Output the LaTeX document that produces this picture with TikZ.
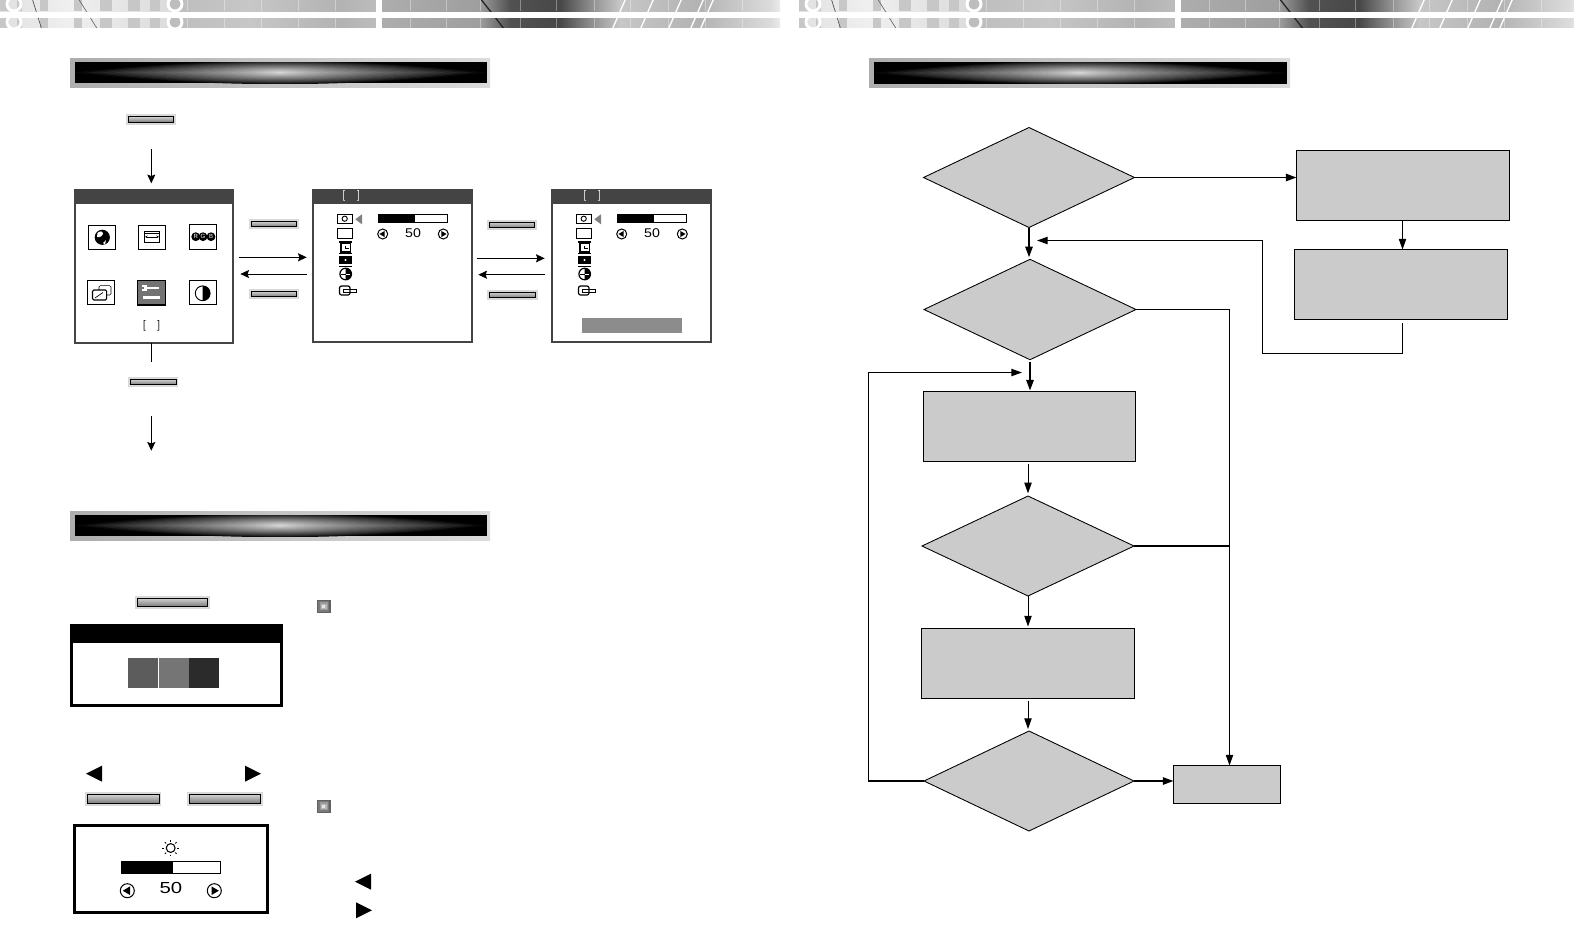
\documentclass[tikz,border=0pt]{standalone}
\usepackage{fontspec}
\usetikzlibrary{arrows.meta,shapes.geometric,calc}
\setsansfont{Liberation Sans}
\def\px{0.75pt}
\definecolor{titlegray}{HTML}{444444}
\definecolor{flowgray}{HTML}{CBCBCB}
\tikzset{
  screen/.style={draw=titlegray, line width=1.5pt, fill=white, inner sep=0pt, outer sep=0pt},
  framebox/.style={draw=black, line width=2pt, fill=white, inner sep=0pt, outer sep=0pt},
  btn/.style={draw=black, line width=0.6pt, top color=black!18, bottom color=black!52, inner sep=0pt, outer sep=0pt,
    minimum width=#1*\px, minimum height=5.5*\px, preaction={draw=black!15, line width=3.5pt}},
  flowbox/.style={draw=black, line width=0.75pt, fill=flowgray, inner sep=0pt, outer sep=0pt},
  flowdia/.style={flowbox, shape=diamond, line width=0.65pt},
  flowarrow/.style={-{Stealth[inset=0pt,length=8pt,width=5.5pt]}, line width=0.75pt},
  flowthick/.style={flowarrow, line width=1.3pt},
  panelarrow/.style={-{Stealth[inset=1pt,length=6.5pt,width=6pt]}, line width=0.7pt},
  iconbox/.style={draw=black, line width=0.75pt},
  bignum/.style={font=\sffamily\fontsize{#1}{#1}\selectfont, inner sep=0pt},
  marktext/.style={font=\bfseries\fontsize{8}{9}\selectfont, inner sep=0pt},
}
% one grey strip of the page header
\newcommand{\headerstrip}[2]{
  \begin{scope}
    \clip (0,#1) rectangle (780,#2);
    \foreach \xa/\xb/\ca/\cb in {0/70/12/6, 70/170/6/14, 170/250/26/22, 250/340/22/30, 340/376/30/26,
      376/382/0/0, 382/480/32/38, 480/510/38/68, 510/560/68/72, 560/590/72/45, 590/620/45/22,
      620/700/22/30, 700/770/30/14, 770/780/14/8}
      \shade[left color=black!\ca, right color=black!\cb] (\xa,#1) rectangle (\xb,#2);
    \foreach \xa/\xb in {0/9,17/22,40/48,74/82,100/112,128/140,150/160}
      \fill[black!22] (\xa,#1) rectangle (\xb,#2);
    \foreach \xv in {187,224,261,298,335,410,446,480,520,556,594,630,668,705,742}
      \draw[white, opacity=0.35, line width=0.5pt] (\xv,#1) -- (\xv,#2);
    \foreach \xv in {14,175}
      \draw[white, line width=2.2pt] (\xv,#1+4) circle[radius=7];
    \draw[black!70, line width=0.5pt] (32,-2) -- (42,30);
    \draw[black!60, line width=0.5pt] (78,-2) -- (98,30);
    \foreach \xv in {612,640,668,690,700}
      \draw[white, line width=1pt] (\xv,30) -- (\xv+14,-2);
    \draw[black!85, line width=1pt] (480,-2) -- (505,30);
  \end{scope}
}
% section title bar with the glow in its middle
\newcommand{\sectionbar}[4]{
  \shade[left color=black!32, right color=black!14] (#1,#2) rectangle (#3,#4);
  \fill[black] (#1+5,#2+4) rectangle (#3-3.5,#4-4);
  \begin{scope}
    \clip (#1+5,#2+4) rectangle (#3-3.5,#4-4);
    \foreach \i in {0,...,19}{
      \pgfmathsetmacro\tval{\i/20}
      \pgfmathsetmacro\rxval{((#3-#1)/2-4)*(1-\tval)^1.35}
      \pgfmathsetmacro\ryval{15.5*(1-\tval)}
      \pgfmathsetmacro\blk{97-85*\tval^0.85}
      \fill[black!\blk, shift={({(#1+#3)/2},{(#2+#4)/2})}]
        (-\rxval,0) .. controls (-0.35*\rxval,-\ryval) and (0.35*\rxval,-\ryval) .. (\rxval,0)
        .. controls (0.35*\rxval,\ryval) and (-0.35*\rxval,\ryval) .. cycle;
    }
  \end{scope}
}
\newcommand{\roundarrow}[4]{
  \draw[line width=0.75pt] (#1,#2) circle[radius=#3];
  \fill[shift={(#1,#2)}, scale=#3] (#4*0.65,0) -- (-#4*0.4,-0.62) -- (-#4*0.4,0.62) -- cycle;
}
% column of icons and the level bar of a sub menu
\newcommand{\submenuicons}{
  \draw[iconbox] (337.8,214.5) rectangle (352.2,223);
  \draw[line width=1pt] (337.8,214.5) -- (352.2,214.5);
  \draw[line width=0.7pt] (344.7,218.7) circle[radius=2.6];
  \fill[black!50] (355.3,219.3) -- (362,214.3) -- (362,224.3) -- cycle;
  \draw[iconbox] (337.8,228.5) rectangle (352.2,238);
  \draw[line width=0.8pt] (341,243.5) rectangle (350.5,252);
  \draw[line width=0.8pt] (339,242) -- (352.3,242) (339,253.2) -- (352.3,253.2);
  \draw[line width=0.6pt] (345.5,245.5) -- (345.5,248.2) -- (349,248.2);
  \fill (339,256.2) rectangle (351.7,263.8);
  \fill[white] (345.5,260) circle[radius=1.2];
  \draw[line width=0.7pt] (339,266.3) -- (351.7,266.3);
  \draw[line width=0.9pt] (345.7,274) circle[radius=5.8];
  \fill (345.7,268.2) arc[start angle=-90, end angle=90, radius=5.8] -- cycle;
  \draw[line width=0.7pt] (341,274) -- (345.7,274);
  \draw[white, line width=0.7pt] (345.7,274) -- (350,274);
  \draw[line width=0.9pt, rounded corners=1.5pt] (339.5,286) rectangle (350,295);
  \draw[line width=0.6pt] (343.5,289.3) rectangle (356,292.7);
  \draw[line width=0.6pt, fill=white] (378.4,214.7) rectangle (447.3,222.3);
  \fill (378,214.3) rectangle (415,222.7);
  \roundarrow{382.7}{234}{5}{-1}
  \roundarrow{443.3}{234}{5}{1}
  \node[bignum=9.5, xscale=1.12] (level) at (413,232.8) {50};
}
\begin{document}
\begin{tikzpicture}[x=0.75pt, y=-0.75pt]
\path[use as bounding box, fill=white] (0,0) rectangle (1574,951);
% header and title bars
\headerstrip{0}{11}
\headerstrip{18}{27.7}
\begin{scope}[xshift=799*\px]
  \headerstrip{0}{11}
  \headerstrip{18}{27.7}
\end{scope}
\sectionbar{70}{58}{490}{87}
\sectionbar{70}{511}{490}{540}
\sectionbar{869}{58}{1290}{87.7}
% main menu and sub menus
\node[screen, minimum width=158*\px, minimum height=152.7*\px] (menu) at (154,266.3) {};
\node[screen, minimum width=158.7*\px, minimum height=151.7*\px] (subone) at (392.3,265.8) {};
\node[screen, minimum width=159*\px, minimum height=151.7*\px] (subtwo) at (631.5,265.8) {};
\fill[titlegray] (74,189) rectangle (234,203.7);
\fill[titlegray] (312,189) rectangle (472.7,203.7);
\fill[titlegray] (551,189) rectangle (712,203.7);
\node[marktext] (menumark) at (151.6,325.5) {[\hspace{8.4pt}]};
\node[marktext, text=white] (onemark) at (351.2,195.7) {[\hspace{8.4pt}]};
\node[marktext, text=white] (twomark) at (592.2,195.7) {[\hspace{8.4pt}]};
\fill[black!45] (582,318) rectangle (682,333);
% menu icons
\draw[iconbox] (88.4,225.4) rectangle (115.4,249.4);
\fill (102.3,237.3) circle[radius=7.6];
\fill[white] (97.5,233) .. controls (100,230.5) and (103,231) .. (103,234) .. controls (101,237) and (99,238) .. (97,237) -- cycle;
\fill[white] (103,243) -- (106,240) -- (105,244.5) -- cycle;
\draw[iconbox] (138.6,225.4) rectangle (165.4,249.4);
\draw[line width=0.7pt] (144.5,231) rectangle (159.5,242.6) (144.5,233.5) -- (159.5,233.5);
\draw[{Stealth[length=2pt,width=2pt]}-{Stealth[length=2pt,width=2pt]}, line width=0.35pt] (145,236.8) -- (159,236.8);
\draw[iconbox] (189.7,224.4) rectangle (216.4,249);
\foreach \xc/\rgb in {195.7/R,203/G,211/B}{
  \fill (\xc,236.7) circle[radius=4.4];
  \node[text=white, font=\sffamily\fontsize{4.5}{5}\selectfont, inner sep=0pt] (icon\rgb) at (\xc,236.7) {\rgb};
}
\draw[iconbox] (87.4,280.4) rectangle (114.4,304.4);
\draw[line width=0.4pt, rounded corners=1pt] (99,285.7) rectangle (111,295);
\draw[line width=0.8pt, fill=white, rounded corners=1pt] (92.5,290) rectangle (106.7,300);
\draw[line width=0.5pt] (95,298) -- (103,292.5);
\fill[black!55] (137,280) rectangle (165.7,305.3);
\draw[line width=0.8pt] (137.3,280.3) rectangle (165.4,305);
\fill[white] (145.5,286.7) rectangle (159.3,288.7);
\fill[white] (142.3,284.5) rectangle (147,291);
\fill[black!55] (142.3,287) rectangle (144,288.5);
\fill[white] (143,296.3) rectangle (160,298.5);
\draw[iconbox] (189.7,280.4) rectangle (216.4,304.4);
\draw[line width=0.7pt] (202.7,293.3) circle[radius=7.4];
\fill (202.7,285.9) arc[start angle=-90, end angle=90, radius=7.4] -- cycle;
% sub menu contents
\submenuicons
\begin{scope}[xshift=239*\px]
  \submenuicons
\end{scope}
% buttons
\node[btn=45.7] (btnopen) at (151,119.5) {};
\node[btn=45.7] (btninone) at (274,224) {};
\node[btn=45.7] (btnoutone) at (274,294) {};
\node[btn=46] (btnexit) at (153,382) {};
\node[btn=45.7] (btnintwo) at (512,225) {};
\node[btn=46] (btnouttwo) at (512.5,295) {};
\node[btn=70, minimum height=8*\px] (btnpick) at (172.5,602.3) {};
\node[btn=72, minimum height=9*\px] (btndown) at (123,799) {};
\node[btn=71.5, minimum height=9*\px] (btnup) at (225,799) {};
% arrows of the menu row
\coordinate (openfrom) at (151.3,149.3);
\coordinate (opento) at (151.3,183.3);
\coordinate (exitstub) at (151.3,361.7);
\coordinate (exitfrom) at (151.3,416);
\coordinate (exitto) at (151.3,450.7);
\draw[panelarrow] (openfrom) -- (opento);
\draw[line width=0.7pt] (menu.south -| exitstub) -- (exitstub);
\draw[panelarrow] (exitfrom) -- (exitto);
\coordinate (rowa) at (239,257.3);
\coordinate (rowb) at (306.7,257.3);
\coordinate (rowc) at (307,274);
\coordinate (rowd) at (240.3,274);
\coordinate (rowe) at (476.7,258.3);
\coordinate (rowf) at (544.7,258.3);
\coordinate (rowg) at (545.3,274.7);
\coordinate (rowh) at (478.3,274.7);
\draw[panelarrow] (rowa) -- (rowb);
\draw[panelarrow] (rowc) -- (rowd);
\draw[panelarrow] (rowe) -- (rowf);
\draw[panelarrow] (rowg) -- (rowh);
% contrast box
\node[framebox, minimum width=210.4*\px, minimum height=80.4*\px] (colorbox) at (176.5,665.5) {};
\fill (70,624) rectangle (283,643);
\fill[black!64] (128,658) rectangle (158,688);
\fill[black!54] (159,658) rectangle (189,688);
\fill[black!83] (189,658) rectangle (219,688);
% level box
\fill (86,773.7) -- (102,765.7) -- (102,781.7) -- cycle;
\fill (261,773.7) -- (245,765.7) -- (245,781.7) -- cycle;
\node[framebox, minimum width=193*\px, minimum height=86.8*\px] (levelbox) at (171.2,869) {};
\draw[line width=0.8pt] (170.7,848) circle[radius=4.4];
\foreach \a in {0,45,...,315}
  \draw[line width=0.7pt] (170.7,848) ++(\a:6.5) -- ++(\a:1.8);
\draw[line width=0.9pt, fill=white] (121.5,861.5) rectangle (220.5,873.5);
\fill (121,861) rectangle (172.7,874);
\roundarrow{127.3}{890.7}{7}{-1}
\roundarrow{214.3}{890.7}{7}{1}
\node[bignum=12, xscale=1.27] (levelnum) at (171,888) {50};
% bullets and small triangles
\foreach \yb in {606.3,806.3}{
  \foreach \s/\blk in {6.8/62,5.4/52,4/40,2.7/28,1.4/10}
    \fill[black!\blk] (323.8-\s,\yb-\s) rectangle (323.8+\s,\yb+\s);
}
\fill (355,881.7) -- (371,873.7) -- (371,889.7) -- cycle;
\fill (372,910.3) -- (356,902.3) -- (356,918.3) -- cycle;
% flow chart
\node[flowdia, minimum width=211*\px, minimum height=100*\px] (dcheck) at (1029,177.5) {};
\node[flowbox, minimum width=213*\px, minimum height=70*\px] (boxa) at (1403,185.5) {};
\node[flowbox, minimum width=213*\px, minimum height=70*\px] (boxb) at (1401,284.5) {};
\node[flowdia, minimum width=212*\px, minimum height=100.4*\px] (dselect) at (1030,309.5) {};
\node[flowbox, minimum width=212*\px, minimum height=70*\px] (boxc) at (1029.5,426.5) {};
\node[flowdia, minimum width=212*\px, minimum height=100*\px] (dadjust) at (1028,546) {};
\node[flowbox, minimum width=213*\px, minimum height=70*\px] (boxd) at (1028,663.5) {};
\node[flowdia, minimum width=210*\px, minimum height=100*\px] (dmore) at (1029,781) {};
\node[flowbox, minimum width=107*\px, minimum height=38*\px] (boxend) at (1227,784.5) {};
\coordinate (taila) at (1402.5,323);
\coordinate (tailb) at (1262.5,353.5);
\coordinate (tailc) at (1037,240.5);
\coordinate (rail) at (1229.5,309.5);
\coordinate (loopa) at (868.5,372.5);
\coordinate (loopb) at (1022,372.5);
\draw[flowthick] (dcheck.east) -- (dcheck.east -| boxa.west);
\draw[flowarrow] (boxa.south -| taila) -- (boxb.north -| taila);
\draw[line width=0.7pt] (taila) |- (tailb);
\draw[flowarrow, line width=1pt] (tailb) |- (tailc);
\draw[flowthick, shorten >=1.5pt] (dcheck.south) -- (dcheck.south |- dselect.north);
\draw[line width=1pt] (dselect.east) -- (rail);
\draw[flowarrow] (rail) -- (rail |- boxend.north);
\draw[flowthick, shorten <=1.5pt, shorten >=0.7pt] (dselect.south) -- (dselect.south |- boxc.north);
\draw[flowarrow, shorten <=2pt, shorten >=2pt] (dadjust.north |- boxc.south) -- (dadjust.north);
\draw[line width=0.8pt] (dadjust.east) -- (dadjust.east -| rail);
\draw[flowarrow, shorten >=1.5pt] (dadjust.south) -- (dadjust.south |- boxd.north);
\draw[flowarrow, shorten <=1.5pt, shorten >=1.5pt] (boxd.south) -- (boxd.south |- dmore.north);
\draw[flowthick] (dmore.east) -- (dmore.east -| boxend.west);
\draw[flowarrow, line width=1pt] (dmore.west) -| (loopa) -- (loopb);
\end{tikzpicture}
\end{document}
